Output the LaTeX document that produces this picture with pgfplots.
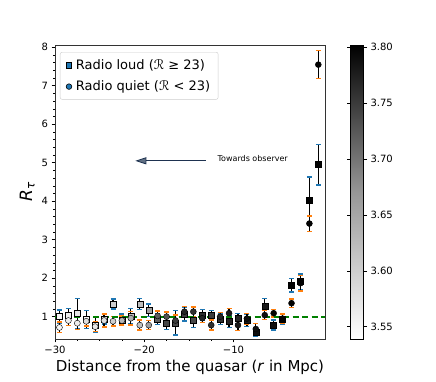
\documentclass[border=0pt]{standalone}
\usepackage{fontspec}
\setmainfont{DejaVu Sans}
\usepackage{pgfplots}
\pgfplotsset{compat=1.18}
\usepackage{pgfplotstable}
\usetikzlibrary{arrows.meta}
\definecolor{capblue}{RGB}{31,119,180}
\definecolor{caporange}{RGB}{255,127,14}
\definecolor{refgreen}{RGB}{0,128,0}
\definecolor{arrownavy}{RGB}{30,50,80}

% x  y  err  c   (radio loud, squares)
\pgfplotstableread{
x y e c
-29.5 1.00 0.17 3.55
-28.5 1.04 0.18 3.56
-27.5 1.08 0.40 3.57
-26.5 0.93 0.23 3.55
-25.5 0.78 0.20 3.56
-24.5 0.93 0.12 3.58
-23.5 1.33 0.13 3.60
-22.5 0.92 0.15 3.64
-21.5 1.02 0.20 3.62
-20.5 1.33 0.15 3.62
-19.5 1.17 0.16 3.66
-18.5 0.93 0.14 3.72
-17.5 0.83 0.16 3.74
-16.5 0.84 0.32 3.74
-15.5 1.07 0.18 3.75
-14.5 0.90 0.18 3.74
-13.5 1.05 0.14 3.76
-12.5 1.04 0.12 3.75
-11.5 0.93 0.14 3.76
-10.5 0.87 0.15 3.77
-9.5 0.96 0.13 3.77
-8.5 0.91 0.16 3.78
-7.5 0.60 0.12 3.79
-6.5 1.26 0.22 3.78
-5.5 0.78 0.13 3.79
-4.5 0.93 0.12 3.80
-3.5 1.82 0.18 3.80
-2.5 1.91 0.20 3.80
-1.5 4.03 0.60 3.80
-0.5 4.95 0.53 3.80
}\loud

% radio quiet, circles
\pgfplotstableread{
x y e c
-29.5 0.72 0.14 3.55
-28.5 0.90 0.13 3.56
-27.5 0.83 0.16 3.56
-26.5 0.88 0.12 3.58
-25.5 0.74 0.12 3.57
-24.5 0.90 0.17 3.58
-23.5 0.88 0.12 3.60
-22.5 0.90 0.12 3.63
-21.5 0.96 0.18 3.64
-20.5 0.78 0.13 3.62
-19.5 0.78 0.12 3.66
-18.5 1.02 0.13 3.72
-17.5 1.00 0.12 3.73
-16.5 0.90 0.14 3.75
-15.5 1.13 0.14 3.77
-14.5 1.13 0.12 3.76
-13.5 0.96 0.12 3.77
-12.5 0.78 0.13 3.76
-11.5 1.00 0.10 3.77
-10.5 1.09 0.13 3.78
-9.5 0.78 0.14 3.78
-8.5 0.95 0.14 3.79
-7.5 0.68 0.14 3.79
-6.5 1.04 0.12 3.79
-5.5 1.09 0.10 3.80
-4.5 0.95 0.12 3.80
-3.5 1.35 0.11 3.80
-2.5 1.87 0.20 3.80
-1.5 3.42 0.20 3.80
-0.5 7.55 0.36 3.80
}\quiet

\begin{document}
\begin{tikzpicture}
\useasboundingbox (0,0) rectangle (436pt,382pt);
\begin{axis}[
  at={(55pt,43pt)}, anchor=south west,
  scale only axis, width=270pt, height=294pt,
  xmin=-30, xmax=0.25, ymin=0.42, ymax=8.06,
  xtick={-30,-20,-10}, xticklabels={−30,−20,−10},
  ytick={1,2,...,8},
  minor x tick num=3, minor y tick num=4,
  tick pos=left, tick align=outside,
  major tick length=3.5pt, minor tick length=2pt,
  tick style={black, line width=0.6pt},
  axis line style={line width=0.8pt, black!80},
  ticklabel style={font=\fontsize{10}{12}\selectfont},
  /pgf/number format/assume math mode=true,
  xlabel={Distance from the quasar (\textit{r} in Mpc)},
  xlabel style={font=\fontsize{15}{18}\selectfont},
  ylabel={\textit{R}\textsubscript{\textit{τ}}},
  ylabel style={font=\fontsize{17}{20}\selectfont},
  colormap={greys}{rgb255=(255,255,255) rgb255=(150,150,150) rgb255=(0,0,0)},
  point meta min=3.539, point meta max=3.802,
  colorbar,
  colorbar style={
    at={(parent axis.north east)}, anchor=north west, xshift=17pt,
    scale only axis, width=13pt, height=294pt,
    ytick={3.55,3.6,3.65,3.7,3.75,3.8},
    yticklabel style={font=\fontsize{10}{12}\selectfont,
      /pgf/number format/.cd, fixed, fixed zerofill, precision=2, assume math mode=true},
    tick align=outside, major tick length=3.5pt,
    axis line style={line width=0.8pt},
  },
  legend style={at={(0.0185,0.976)}, anchor=north west, rounded corners=2pt,
    draw=black!20, font=\fontsize{13}{15}\selectfont, row sep=6pt,
    inner xsep=6pt, inner ysep=5pt},
  legend cell align=left,
]
\addlegendimage{only marks, mark=square*, mark size=2.8pt, mark options={fill=capblue, draw=black, line width=0.6pt}}
\addlegendentry{\,Radio loud (\textit{ℛ} ≥  23)}
\addlegendimage{only marks, mark=*, mark size=2.8pt, mark options={fill=capblue, draw=black, line width=0.6pt}}
\addlegendentry{\,Radio quiet (\textit{ℛ} < 23)}

\addplot[forget plot, scatter, only marks, mark=square*, mark size=3pt,
  point meta=explicit,
  scatter/use mapped color={draw=black, fill=mapped color},
  error bars/.cd, y dir=both, y explicit, error mark=|,
  error bar style={draw=mapped color, line width=1.2pt},
  error mark options={draw=capblue, line width=1.3pt, mark size=2.5pt}]
  table[x=x, y=y, y error=e, meta=c] {\loud};

\addplot[forget plot, scatter, only marks, mark=*, mark size=3pt,
  point meta=explicit,
  scatter/use mapped color={draw=black, fill=mapped color},
  error bars/.cd, y dir=both, y explicit, error mark=|,
  error bar style={draw=mapped color, line width=1.2pt},
  error mark options={draw=caporange, line width=1.3pt, mark size=2.5pt}]
  table[x=x, y=y, y error=e, meta=c] {\quiet};

\addplot[forget plot, refgreen, line width=1.8pt, dash pattern=on 6pt off 3.5pt]
  coordinates {(-30,1) (0.25,1)};

\draw[arrownavy, line width=0.8pt, -{Triangle[width=7pt, length=11pt, fill=arrownavy!70]}]
  (axis cs:-13.1,5.05) -- (axis cs:-21.0,5.05);
\node[anchor=west, font=\fontsize{8}{10}\selectfont, inner sep=0pt]
  at (axis cs:-11.8,5.12) {Towards observer};
\end{axis}
\end{tikzpicture}
\end{document}
